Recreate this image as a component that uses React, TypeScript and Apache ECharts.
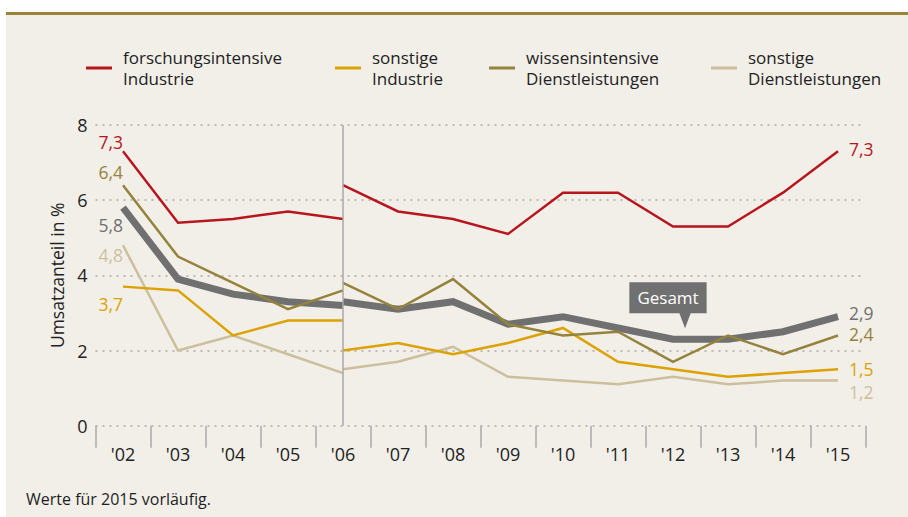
import React, { useEffect, useRef } from "react";
import * as echarts from "echarts";

const years = ["'02", "'03", "'04", "'05", "'06", "'07", "'08", "'09", "'10", "'11", "'12", "'13", "'14", "'15"];
const yTicks = [0, 2, 4, 6, 8];

// values '02–'06 (old method) and '06–'15 (new method)
const forschLeft = [7.3, 5.4, 5.5, 5.7, 5.5];
const forschRight = [6.4, 5.7, 5.5, 5.1, 6.2, 6.2, 5.3, 5.3, 6.2, 7.3];
const sonstIndLeft = [3.7, 3.6, 2.4, 2.8, 2.8];
const sonstIndRight = [2.0, 2.2, 1.9, 2.2, 2.6, 1.7, 1.5, 1.3, 1.4, 1.5];
const wissLeft = [6.4, 4.5, 3.8, 3.1, 3.6];
const wissRight = [3.8, 3.1, 3.9, 2.7, 2.4, 2.5, 1.7, 2.4, 1.9, 2.4];
const sonstDlLeft = [4.8, 2.0, 2.4, 1.9, 1.4];
const sonstDlRight = [1.5, 1.7, 2.1, 1.3, 1.2, 1.1, 1.3, 1.1, 1.2, 1.2];
const gesamtLeft = [5.8, 3.9, 3.5, 3.3, 3.2];
const gesamtRight = [3.3, 3.1, 3.3, 2.7, 2.9, 2.6, 2.3, 2.3, 2.5, 2.9];

const names = {
  forsch: "forschungsintensive\nIndustrie",
  sonstInd: "sonstige\nIndustrie",
  wiss: "wissensintensive\nDienstleistungen",
  sonstDl: "sonstige\nDienstleistungen",
  gesamt: "Gesamt",
};

const COLORS = {
  forsch: "#b8161e",
  sonstInd: "#dba200",
  wiss: "#95823b",
  sonstDl: "#ccbf9c",
  gesamt: "#707070",
};

const FONT = "Open Sans";

function fmt(v: number) {
  return v.toFixed(1).replace(".", ",");
}

function makeData(vals: number[], start: number, startLabel: any, endLabel: any, color: string) {
  const arr: any[] = years.map(() => "-");
  vals.forEach((v, i) => {
    arr[start + i] = v;
  });
  const labelBase = {
    show: true,
    color,
    fontSize: 17.5,
    lineHeight: 19,
    fontFamily: FONT,
    formatter: (p: any) => fmt(p.value),
  };
  if (startLabel) {
    arr[start] = { value: vals[0], label: { ...labelBase, ...startLabel } };
  }
  if (endLabel) {
    const li = start + vals.length - 1;
    arr[li] = { value: vals[vals.length - 1], label: { ...labelBase, ...endLabel } };
  }
  return arr;
}

function lineSeries(name: string, data: any[], color: string, width: number, extra: any = {}) {
  return {
    type: "line",
    name,
    data,
    symbol: "circle",
    symbolSize: 0,
    showSymbol: true,
    connectNulls: false,
    itemStyle: { color },
    lineStyle: { color, width, cap: "butt", join: "miter" },
    label: { show: false },
    emphasis: { disabled: true },
    ...extra,
  };
}

const leftLab = (dy: number) => ({ position: "left", distance: 0, offset: [0, dy] });
const rightLab = (dy: number) => ({ position: "right", distance: 11, offset: [0, dy] });

export default function App() {
  const ref = useRef<HTMLDivElement>(null);
  useEffect(() => {
    if (!ref.current) return;
    const chart = echarts.init(ref.current, null, { renderer: "svg" });

    const legendDefs = [
      { name: names.forsch, left: 86 },
      { name: names.sonstInd, left: 335 },
      { name: names.wiss, left: 489 },
      { name: names.sonstDl, left: 711 },
    ];

    const option: any = {
      animation: false,
      backgroundColor: "#ffffff",
      textStyle: { fontFamily: FONT },
      graphic: [
        { type: "rect", shape: { x: 6, y: 15, width: 902, height: 502 }, style: { fill: "#f2efe9" }, z: -10 },
        { type: "rect", shape: { x: 6, y: 12, width: 902, height: 3 }, style: { fill: "#9b8438" }, z: -9 },
        {
          type: "text",
          left: 26,
          top: 491,
          style: { text: "Werte für 2015 vorläufig.", fill: "#1e1e1e", font: `16px "${FONT}"` },
        },
      ],
      legend: legendDefs.map((d) => ({
        data: [d.name],
        left: d.left,
        top: 47,
        padding: 0,
        icon: "rect",
        itemWidth: 26,
        itemHeight: 3,
        itemGap: 0,
        selectedMode: false,
        textStyle: { fontSize: 17, color: "#222", lineHeight: 21, fontFamily: FONT, padding: [0, 0, 0, 6] },
      })),
      grid: { left: 95.5, width: 770, top: 125, height: 300.7, containLabel: false },
      xAxis: {
        type: "category",
        data: years,
        boundaryGap: true,
        offset: 16,
        axisLine: { show: false },
        axisTick: { show: true, length: 22, lineStyle: { color: "#aaaaaa", width: 1.5 } },
        axisLabel: { color: "#222", fontSize: 18, margin: 3, fontFamily: FONT },
        splitLine: { show: false },
      },
      yAxis: {
        type: "value",
        min: yTicks[0],
        max: yTicks[yTicks.length - 1],
        interval: 2,
        name: "Umsatzanteil in %",
        nameLocation: "middle",
        nameRotate: 90,
        nameGap: 27,
        nameTextStyle: { color: "#222", fontSize: 17.5, fontFamily: FONT },
        axisLine: { show: false },
        axisTick: { show: false },
        axisLabel: { color: "#222", fontSize: 18, margin: 8, fontFamily: FONT },
        splitLine: { show: true, lineStyle: { color: "#a9a9a9", width: 1.5, type: [2, 5] } },
      },
      series: [
        lineSeries(names.gesamt, makeData(gesamtLeft, 0, leftLab(17), null, COLORS.gesamt), COLORS.gesamt, 7, {
          markLine: {
            silent: true,
            symbol: "none",
            label: { show: false },
            lineStyle: { color: "#a8a8a8", width: 1.5, type: "solid" },
            data: [{ xAxis: "'06" }],
          },
        }),
        lineSeries(names.gesamt, makeData(gesamtRight, 4, null, rightLab(-4), COLORS.gesamt), COLORS.gesamt, 7, {
          markPoint: {
            silent: true,
            data: [
              {
                coord: ["'12", 2.3],
                symbol: "triangle",
                symbolRotate: 180,
                symbolSize: [12, 16],
                symbolOffset: [12, -19],
                itemStyle: { color: "#707070" },
                label: {
                  show: true,
                  position: "top",
                  distance: 0,
                  offset: [-17, 1],
                  formatter: "Gesamt",
                  color: "#ffffff",
                  fontSize: 17,
                  fontFamily: FONT,
                  backgroundColor: "#707070",
                  padding: [5, 8, 5, 8],
                  lineHeight: 21,
                },
              },
            ],
          },
        }),
        lineSeries(names.sonstDl, makeData(sonstDlLeft, 0, leftLab(10), null, COLORS.sonstDl), COLORS.sonstDl, 2.5),
        lineSeries(names.sonstDl, makeData(sonstDlRight, 4, null, rightLab(11), COLORS.sonstDl), COLORS.sonstDl, 2.5),
        lineSeries(names.sonstInd, makeData(sonstIndLeft, 0, leftLab(17), null, COLORS.sonstInd), COLORS.sonstInd, 2.5),
        lineSeries(names.sonstInd, makeData(sonstIndRight, 4, null, rightLab(0), COLORS.sonstInd), COLORS.sonstInd, 2.5),
        lineSeries(names.wiss, makeData(wissLeft, 0, leftLab(-13), null, COLORS.wiss), COLORS.wiss, 2.5),
        lineSeries(names.wiss, makeData(wissRight, 4, null, rightLab(-1), COLORS.wiss), COLORS.wiss, 2.5),
        lineSeries(names.forsch, makeData(forschLeft, 0, leftLab(-9), null, COLORS.forsch), COLORS.forsch, 2.5),
        lineSeries(names.forsch, makeData(forschRight, 4, null, rightLab(-2), COLORS.forsch), COLORS.forsch, 2.5),
      ],
    };
    chart.setOption(option);
    return () => chart.dispose();
  }, []);

  return <div ref={ref} style={{ position: "absolute", left: 0, top: 0, width: 908, height: 517 }} />;
}
